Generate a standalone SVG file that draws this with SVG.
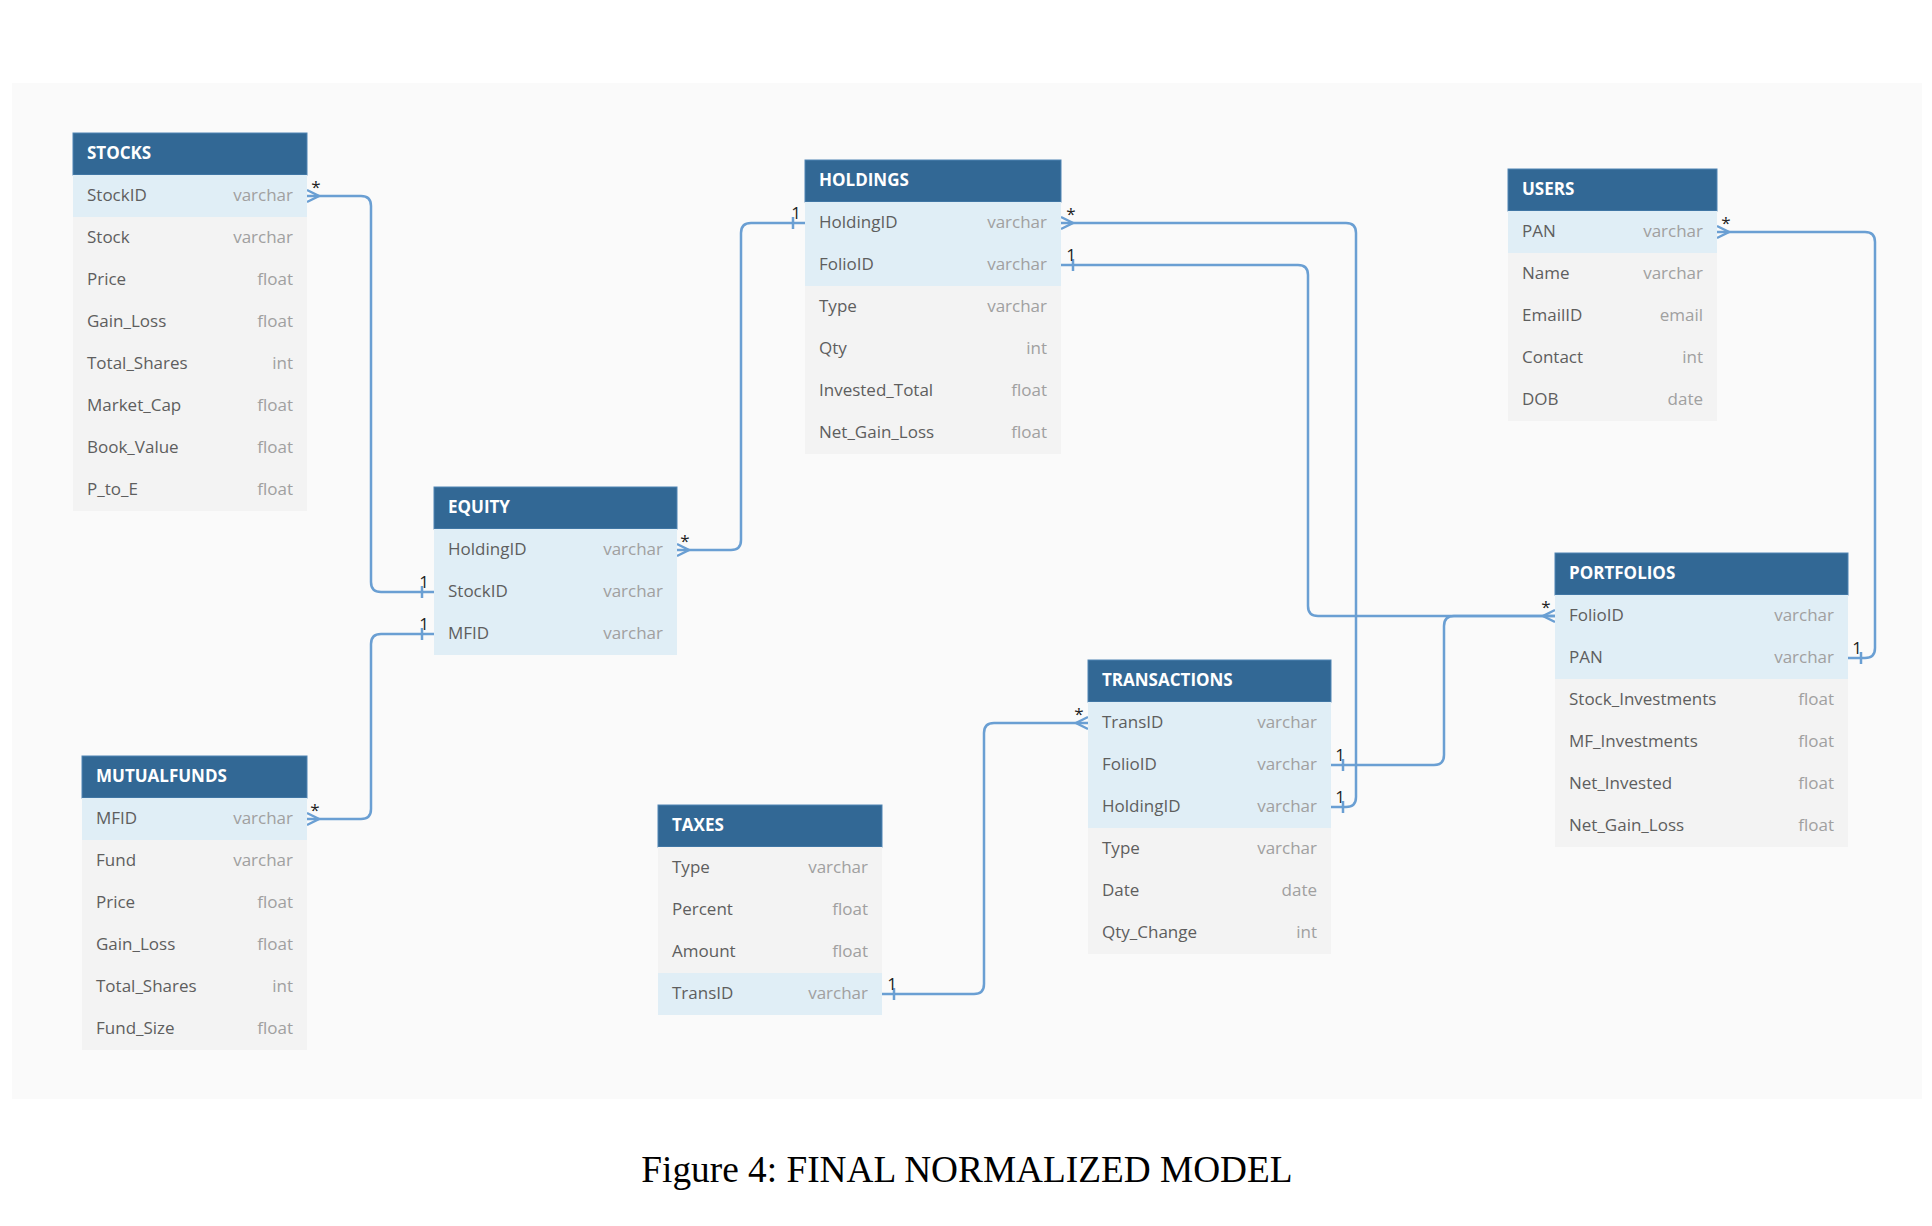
<svg xmlns="http://www.w3.org/2000/svg" width="1932" height="1226" viewBox="0 0 1932 1226">
<style>
.hd{fill:#326895;stroke:#4f84b3;stroke-width:1}
.ht{font-family:"Open Sans","DejaVu Sans",sans-serif;font-size:17px;font-weight:bold;fill:#ffffff;transform:translateY(-1.5px)}
.rk{fill:#e0eef6}
.rn{fill:#f3f3f3}
.fn{font-family:"Open Sans","DejaVu Sans",sans-serif;font-size:17px;fill:#5e5e5e;transform:translateY(-1px)}
.ft{font-family:"Open Sans","DejaVu Sans",sans-serif;font-size:17px;fill:#a0a0a0;text-anchor:end;transform:translateY(-1px)}
.cn{fill:none;stroke:#6a9fd3;stroke-width:2.5}
.lb{font-family:"Open Sans","DejaVu Sans",sans-serif;font-size:17px;fill:#222222;text-anchor:middle}
.cap{font-family:"Liberation Serif","Times New Roman",serif;font-size:37.3px;fill:#000000;text-anchor:middle}
</style>
<rect x="0" y="0" width="1932" height="1226" fill="#ffffff"/>
<rect x="12" y="83" width="1910" height="1016" fill="#fafafa"/>

<g id="connectors">
<path class="cn" d="M307,196 H361 Q371,196 371,206 V582 Q371,592 381,592 H434"/>
<path class="cn" d="M307,819 H361 Q371,819 371,809 V644 Q371,634 381,634 H434"/>
<path class="cn" d="M677,550 H731 Q741,550 741,540 V233 Q741,223 751,223 H805"/>
<path class="cn" d="M1061,223 H1346 Q1356,223 1356,233 V797 Q1356,807 1346,807 H1331"/>
<path class="cn" d="M1061,265 H1298 Q1308,265 1308,275 V606 Q1308,616 1318,616 H1555"/>
<path class="cn" d="M1331,765 H1434 Q1444,765 1444,755 V626 Q1444,616 1454,616 H1555"/>
<path class="cn" d="M882,994 H974 Q984,994 984,984 V733 Q984,723 994,723 H1088"/>
<path class="cn" d="M1717,232 H1865 Q1875,232 1875,242 V648 Q1875,658 1865,658 H1848"/>
<path class="cn" d="M307,190 L319,196 L307,202"/>
<path class="cn" d="M307,813 L319,819 L307,825"/>
<path class="cn" d="M677,544 L689,550 L677,556"/>
<path class="cn" d="M1061,217 L1073,223 L1061,229"/>
<path class="cn" d="M1717,226 L1729,232 L1717,238"/>
<path class="cn" d="M1555,610 L1543,616 L1555,622"/>
<path class="cn" d="M1088,717 L1076,723 L1088,729"/>
<path class="cn" d="M422,586 V598"/>
<path class="cn" d="M422,628 V640"/>
<path class="cn" d="M793,217 V229"/>
<path class="cn" d="M1073,259 V271"/>
<path class="cn" d="M1343,759 V771"/>
<path class="cn" d="M1343,801 V813"/>
<path class="cn" d="M1861,652 V664"/>
<path class="cn" d="M894,988 V1000"/>
<text class="lb" x="316" y="193">*</text>
<text class="lb" x="315" y="816">*</text>
<text class="lb" x="685" y="547">*</text>
<text class="lb" x="1071" y="220">*</text>
<text class="lb" x="1726" y="229">*</text>
<text class="lb" x="1546" y="613">*</text>
<text class="lb" x="1079" y="720">*</text>
<text class="lb" x="424" y="588">1</text>
<text class="lb" x="424" y="630">1</text>
<text class="lb" x="796" y="219">1</text>
<text class="lb" x="1071" y="261">1</text>
<text class="lb" x="1340" y="761">1</text>
<text class="lb" x="1340" y="803">1</text>
<text class="lb" x="1857" y="654">1</text>
<text class="lb" x="892" y="990">1</text>
</g>

<g id="stocks">
<rect class="hd" x="73" y="133" width="234" height="42"/>
<text class="ht" x="87" y="160">STOCKS</text>
<rect class="rk" x="73" y="175" width="234" height="42"/>
<rect class="rn" x="73" y="217" width="234" height="294"/>
<text class="fn" x="87" y="202">StockID</text><text class="ft" x="293" y="202">varchar</text>
<text class="fn" x="87" y="244">Stock</text><text class="ft" x="293" y="244">varchar</text>
<text class="fn" x="87" y="286">Price</text><text class="ft" x="293" y="286">float</text>
<text class="fn" x="87" y="328">Gain_Loss</text><text class="ft" x="293" y="328">float</text>
<text class="fn" x="87" y="370">Total_Shares</text><text class="ft" x="293" y="370">int</text>
<text class="fn" x="87" y="412">Market_Cap</text><text class="ft" x="293" y="412">float</text>
<text class="fn" x="87" y="454">Book_Value</text><text class="ft" x="293" y="454">float</text>
<text class="fn" x="87" y="496">P_to_E</text><text class="ft" x="293" y="496">float</text>
</g>

<g id="equity">
<rect class="hd" x="434" y="487" width="243" height="42"/>
<text class="ht" x="448" y="514">EQUITY</text>
<rect class="rk" x="434" y="529" width="243" height="126"/>
<text class="fn" x="448" y="556">HoldingID</text><text class="ft" x="663" y="556">varchar</text>
<text class="fn" x="448" y="598">StockID</text><text class="ft" x="663" y="598">varchar</text>
<text class="fn" x="448" y="640">MFID</text><text class="ft" x="663" y="640">varchar</text>
</g>

<g id="holdings">
<rect class="hd" x="805" y="160" width="256" height="42"/>
<text class="ht" x="819" y="187">HOLDINGS</text>
<rect class="rk" x="805" y="202" width="256" height="84"/>
<rect class="rn" x="805" y="286" width="256" height="168"/>
<text class="fn" x="819" y="229">HoldingID</text><text class="ft" x="1047" y="229">varchar</text>
<text class="fn" x="819" y="271">FolioID</text><text class="ft" x="1047" y="271">varchar</text>
<text class="fn" x="819" y="313">Type</text><text class="ft" x="1047" y="313">varchar</text>
<text class="fn" x="819" y="355">Qty</text><text class="ft" x="1047" y="355">int</text>
<text class="fn" x="819" y="397">Invested_Total</text><text class="ft" x="1047" y="397">float</text>
<text class="fn" x="819" y="439">Net_Gain_Loss</text><text class="ft" x="1047" y="439">float</text>
</g>

<g id="users">
<rect class="hd" x="1508" y="169" width="209" height="42"/>
<text class="ht" x="1522" y="196">USERS</text>
<rect class="rk" x="1508" y="211" width="209" height="42"/>
<rect class="rn" x="1508" y="253" width="209" height="168"/>
<text class="fn" x="1522" y="238">PAN</text><text class="ft" x="1703" y="238">varchar</text>
<text class="fn" x="1522" y="280">Name</text><text class="ft" x="1703" y="280">varchar</text>
<text class="fn" x="1522" y="322">EmailID</text><text class="ft" x="1703" y="322">email</text>
<text class="fn" x="1522" y="364">Contact</text><text class="ft" x="1703" y="364">int</text>
<text class="fn" x="1522" y="406">DOB</text><text class="ft" x="1703" y="406">date</text>
</g>

<g id="portfolios">
<rect class="hd" x="1555" y="553" width="293" height="42"/>
<text class="ht" x="1569" y="580">PORTFOLIOS</text>
<rect class="rk" x="1555" y="595" width="293" height="84"/>
<rect class="rn" x="1555" y="679" width="293" height="168"/>
<text class="fn" x="1569" y="622">FolioID</text><text class="ft" x="1834" y="622">varchar</text>
<text class="fn" x="1569" y="664">PAN</text><text class="ft" x="1834" y="664">varchar</text>
<text class="fn" x="1569" y="706">Stock_Investments</text><text class="ft" x="1834" y="706">float</text>
<text class="fn" x="1569" y="748">MF_Investments</text><text class="ft" x="1834" y="748">float</text>
<text class="fn" x="1569" y="790">Net_Invested</text><text class="ft" x="1834" y="790">float</text>
<text class="fn" x="1569" y="832">Net_Gain_Loss</text><text class="ft" x="1834" y="832">float</text>
</g>

<g id="transactions">
<rect class="hd" x="1088" y="660" width="243" height="42"/>
<text class="ht" x="1102" y="687">TRANSACTIONS</text>
<rect class="rk" x="1088" y="702" width="243" height="126"/>
<rect class="rn" x="1088" y="828" width="243" height="126"/>
<text class="fn" x="1102" y="729">TransID</text><text class="ft" x="1317" y="729">varchar</text>
<text class="fn" x="1102" y="771">FolioID</text><text class="ft" x="1317" y="771">varchar</text>
<text class="fn" x="1102" y="813">HoldingID</text><text class="ft" x="1317" y="813">varchar</text>
<text class="fn" x="1102" y="855">Type</text><text class="ft" x="1317" y="855">varchar</text>
<text class="fn" x="1102" y="897">Date</text><text class="ft" x="1317" y="897">date</text>
<text class="fn" x="1102" y="939">Qty_Change</text><text class="ft" x="1317" y="939">int</text>
</g>

<g id="taxes">
<rect class="hd" x="658" y="805" width="224" height="42"/>
<text class="ht" x="672" y="832">TAXES</text>
<rect class="rn" x="658" y="847" width="224" height="126"/>
<rect class="rk" x="658" y="973" width="224" height="42"/>
<text class="fn" x="672" y="874">Type</text><text class="ft" x="868" y="874">varchar</text>
<text class="fn" x="672" y="916">Percent</text><text class="ft" x="868" y="916">float</text>
<text class="fn" x="672" y="958">Amount</text><text class="ft" x="868" y="958">float</text>
<text class="fn" x="672" y="1000">TransID</text><text class="ft" x="868" y="1000">varchar</text>
</g>

<g id="mutualfunds">
<rect class="hd" x="82" y="756" width="225" height="42"/>
<text class="ht" x="96" y="783">MUTUALFUNDS</text>
<rect class="rk" x="82" y="798" width="225" height="42"/>
<rect class="rn" x="82" y="840" width="225" height="210"/>
<text class="fn" x="96" y="825">MFID</text><text class="ft" x="293" y="825">varchar</text>
<text class="fn" x="96" y="867">Fund</text><text class="ft" x="293" y="867">varchar</text>
<text class="fn" x="96" y="909">Price</text><text class="ft" x="293" y="909">float</text>
<text class="fn" x="96" y="951">Gain_Loss</text><text class="ft" x="293" y="951">float</text>
<text class="fn" x="96" y="993">Total_Shares</text><text class="ft" x="293" y="993">int</text>
<text class="fn" x="96" y="1035">Fund_Size</text><text class="ft" x="293" y="1035">float</text>
</g>

<text class="cap" x="967" y="1182">Figure 4: FINAL NORMALIZED MODEL</text>
</svg>
